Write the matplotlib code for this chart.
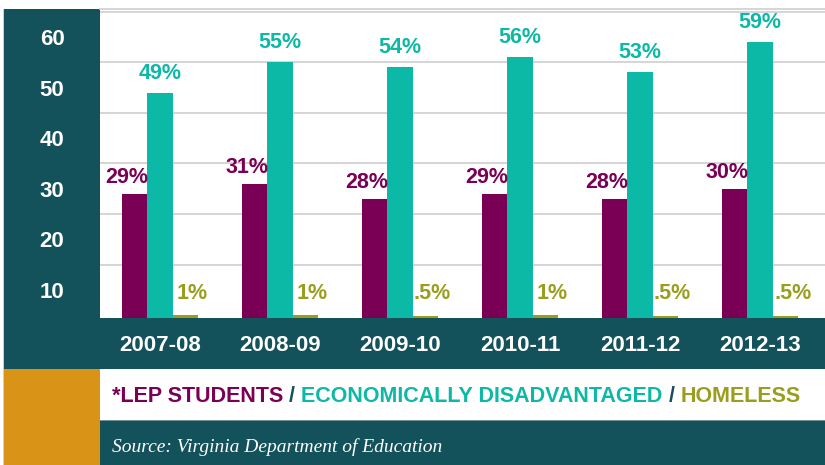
import numpy as np
import matplotlib
matplotlib.use("Agg")
import matplotlib.pyplot as plt
from matplotlib.patches import Rectangle
from matplotlib.offsetbox import TextArea, HPacker, AnnotationBbox

# Data
years = ["2007-08", "2008-09", "2009-10", "2010-11", "2011-12", "2012-13"]
lep = [29, 31, 28, 29, 28, 30]
econ = [49, 55, 54, 56, 53, 59]
homeless = [1, 1, 0.5, 1, 0.5, 0.5]
ytick_vals = [10, 20, 30, 40, 50, 60]
legend_parts = ["*LEP STUDENTS", " / ", "ECONOMICALLY DISADVANTAGED", " / ", "HOMELESS"]
source = "Source: Virginia Department of Education"

DARK = "#14525b"
PURPLE = "#7a0056"
TEAL = "#0cb8a6"
OLIVE = "#9a9e1c"
ORANGE = "#d99418"
GRID = "#d2d2d2"

plt.rcParams["font.family"] = ["Liberation Sans", "DejaVu Sans"]
plt.rcParams["font.weight"] = "bold"

W, H = 825, 465
fig = plt.figure(figsize=(W / 100, H / 100), dpi=100)
fig.patch.set_facecolor("white")


def frect(x0, y0, x1, y1, color):
    # rectangle in pixel coords (y from top) drawn on the figure
    fig.patches.append(Rectangle((x0 / W, 1 - y1 / H), (x1 - x0) / W, (y1 - y0) / H,
                                 transform=fig.transFigure, facecolor=color,
                                 edgecolor="none", zorder=-5))


# background bands
frect(3, 9, 4, H, "#c9d2d2")
frect(4, 9, 100, 369, DARK)
frect(4, 318, W, 369, DARK)
frect(4, 369, 100, H, ORANGE)
frect(100, 421, W, H, DARK)
frect(100, 420, W, 421, "#6f9296")

# plot area
ax = fig.add_axes([100 / W, 1 - 318 / H, 725 / W, 309 / H])
ax.set_facecolor("white")
y_lo, y_hi = 4.5, 65.5
ax.set_ylim(y_lo, y_hi)
ax.set_xlim(-0.5, 5.54)

x = np.arange(len(years))
w = 0.2125
ax.bar(x - w, lep, w, color=PURPLE, zorder=3)
ax.bar(x, econ, w, color=TEAL, zorder=3)
ax.bar(x + w, np.array(homeless) * 0.6, w, bottom=y_lo, color=OLIVE, zorder=3)

# gridlines sit half a step above the labelled values
ax.set_yticks(np.array(ytick_vals) + 5, minor=True)
ax.grid(axis="y", which="minor", color=GRID, linewidth=1.3, zorder=1)
ax.set_yticks(ytick_vals)
ax.set_yticklabels([str(v) for v in ytick_vals], color="white", fontsize=16, fontweight="bold")
for lab in ax.get_yticklabels():
    lab.set_ha("center")
ax.tick_params(axis="y", which="both", length=0, pad=34.5)

ax.set_xticks(x)
ax.set_xticklabels(years, color="white", fontsize=16, fontweight="bold")
for lab in ax.get_xticklabels():
    lab.set_va("center")
ax.tick_params(axis="x", length=0, pad=19.5)

for s in ["left", "right", "bottom"]:
    ax.spines[s].set_visible(False)
ax.spines["top"].set_color(GRID)
ax.spines["top"].set_linewidth(1.3)


def pct(v):
    return f".{int(round(v * 10))}%" if v < 1 else f"{v:g}%"


for i in range(len(years)):
    ax.annotate(pct(lep[i]), (x[i] - w, lep[i]), xytext=(-5.5, 4.5), textcoords="offset points",
                ha="center", va="bottom", color=PURPLE, fontsize=15.5, fontweight="bold")
    ax.annotate(pct(econ[i]), (x[i], econ[i]), xytext=(0, 6.5), textcoords="offset points",
                ha="center", va="bottom", color=TEAL, fontsize=15.5, fontweight="bold")
    ax.annotate(pct(homeless[i]), (x[i] + w, y_lo), xytext=(5, 10), textcoords="offset points",
                ha="center", va="bottom", color=OLIVE, fontsize=15.5, fontweight="bold")

# legend row made of coloured pieces
part_colors = [PURPLE, DARK, TEAL, DARK, OLIVE]
areas = [TextArea(t, textprops=dict(color=c, fontsize=15.5, fontweight="bold",
                                    family=["Liberation Sans", "DejaVu Sans"]))
         for t, c in zip(legend_parts, part_colors)]
pack = HPacker(children=areas, sep=0, pad=0, align="baseline")
ab = AnnotationBbox(pack, (112 / W, 1 - 396 / H), xycoords="figure fraction",
                    box_alignment=(0, 0.5), frameon=False, pad=0)
fig.add_artist(ab)

fig.text(112 / W, 1 - 447 / H, source, color="white", fontsize=14, style="italic",
         fontweight="normal", family=["Liberation Serif", "DejaVu Serif"], ha="left", va="center")

fig.savefig("out.png", dpi=100, facecolor="white")
